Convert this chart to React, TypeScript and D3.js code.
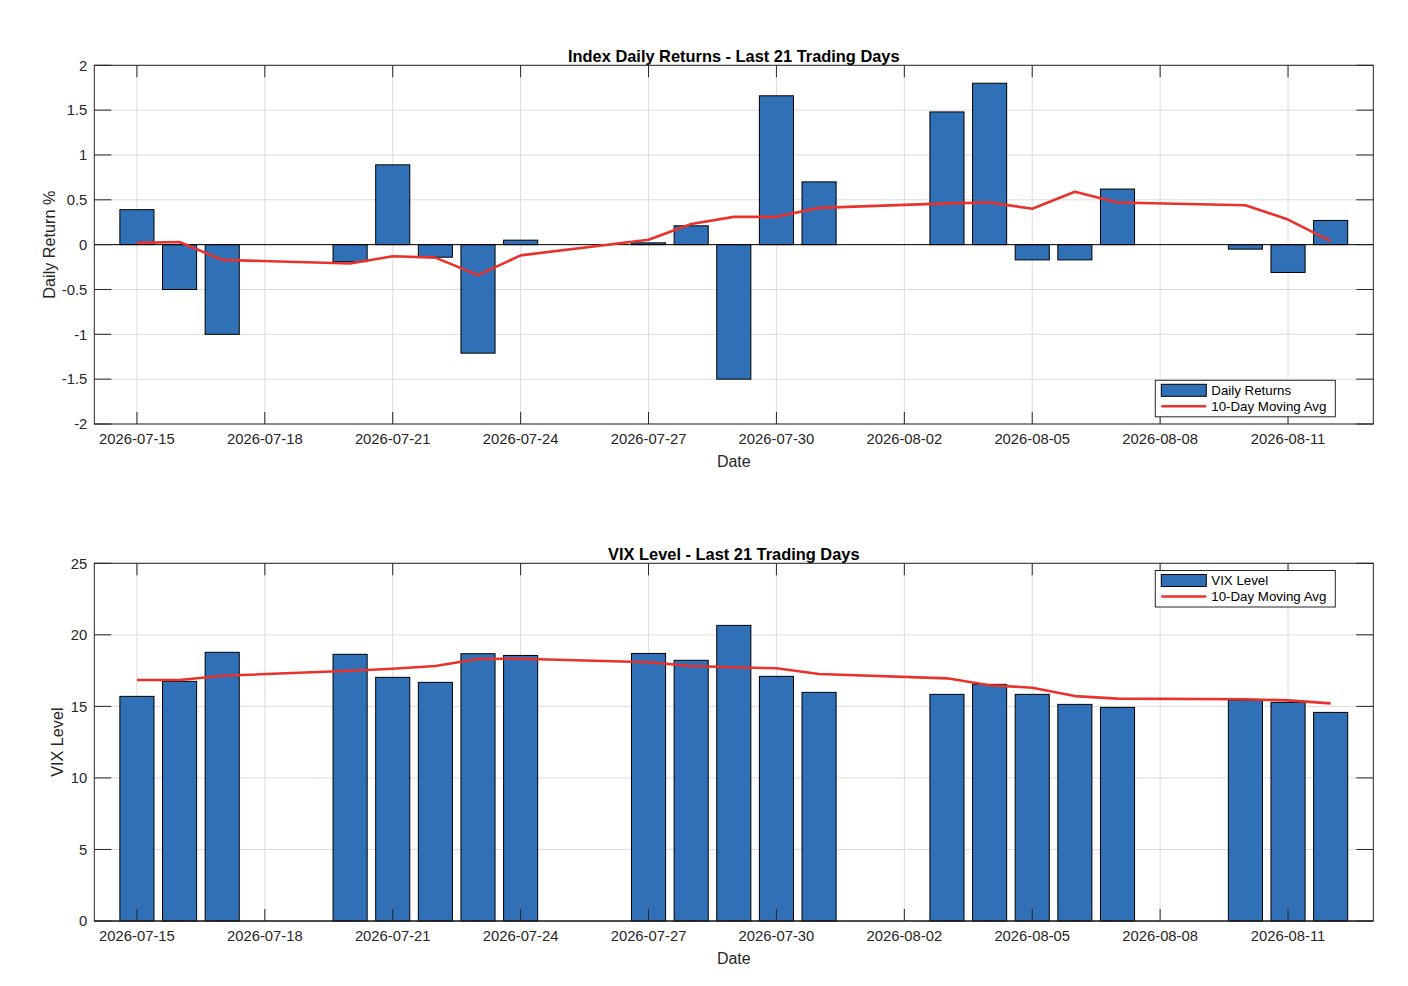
import React from "react";
import * as d3 from "d3";

const tradingDates = [
  "2026-07-15", "2026-07-16", "2026-07-17", "2026-07-20", "2026-07-21", "2026-07-22", "2026-07-23",
  "2026-07-24", "2026-07-27", "2026-07-28", "2026-07-29", "2026-07-30", "2026-07-31", "2026-08-03",
  "2026-08-04", "2026-08-05", "2026-08-06", "2026-08-07", "2026-08-10", "2026-08-11", "2026-08-12",
];
const dailyReturns = [0.39, -0.5, -1.0, -0.19, 0.89, -0.14, -1.21, 0.05, 0.02, 0.21, -1.5, 1.66, 0.7, 1.48, 1.8, -0.17, -0.17, 0.62, -0.05, -0.31, 0.27];
const returnsMA = [0.02, 0.03, -0.17, -0.21, -0.13, -0.145, -0.34, -0.12, 0.055, 0.23, 0.31, 0.31, 0.41, 0.46, 0.47, 0.4, 0.59, 0.47, 0.44, 0.28, 0.04];
const vixLevels = [15.7, 16.75, 18.78, 18.64, 17.03, 16.68, 18.68, 18.56, 18.7, 18.22, 20.66, 17.1, 15.98, 15.84, 16.54, 15.84, 15.14, 14.93, 15.45, 15.28, 14.58];
const vixMA = [16.84, 16.84, 17.14, 17.49, 17.63, 17.82, 18.31, 18.33, 18.08, 17.82, 17.73, 17.66, 17.26, 16.96, 16.48, 16.3, 15.72, 15.54, 15.5, 15.42, 15.21];

const xDomain = ["2026-07-14", "2026-08-13"];
const xTickLabels = ["2026-07-15", "2026-07-18", "2026-07-21", "2026-07-24", "2026-07-27", "2026-07-30", "2026-08-02", "2026-08-05", "2026-08-08", "2026-08-11"];
const returnTicks = [-2, -1.5, -1, -0.5, 0, 0.5, 1, 1.5, 2];
const vixTicks = [0, 5, 10, 15, 20, 25];

const parseDate = d3.timeParse("%Y-%m-%d");
const FONT = "'Liberation Sans', Arial, Helvetica, sans-serif";
const BAR_FILL = "#3070b7";
const LINE_RED = "#e8322b";
const AX = "#262626";

type PanelProps = {
  top: number;
  bottom: number;
  left: number;
  right: number;
  title: string;
  ylabel: string;
  ylabelX: number;
  yDomain: [number, number];
  yTicks: number[];
  values: number[];
  ma: number[];
  barName: string;
  legendTop: number;
};

function Panel(p: PanelProps) {
  const dates = tradingDates.map((d) => parseDate(d) as Date);
  const x = d3.scaleTime().domain(xDomain.map((d) => parseDate(d) as Date)).range([p.left, p.right]);
  const y = d3.scaleLinear().domain(p.yDomain).range([p.bottom, p.top]);
  const dayPx = x(parseDate("2026-07-16") as Date) - x(parseDate("2026-07-15") as Date);
  const barW = dayPx * 0.8;
  const base = y(Math.max(p.yDomain[0], 0));
  const line = d3
    .line<number>()
    .x((_, i) => x(dates[i]))
    .y((v) => y(v));
  const xTicks = xTickLabels.map((s) => ({ s, px: x(parseDate(s) as Date) }));
  const cx = (p.left + p.right) / 2;
  const cy = (p.top + p.bottom) / 2;
  const lg = { x0: p.right - 218, x1: p.right - 38, y0: p.legendTop, y1: p.legendTop + 36.5 };
  const row1 = lg.y0 + 10;
  const row2 = lg.y0 + 26;
  return (
    <g>
      {/* grid */}
      {xTicks.map((t) => (
        <line key={"gx" + t.s} x1={t.px} x2={t.px} y1={p.top} y2={p.bottom} stroke="#dcdcdc" strokeWidth={1} />
      ))}
      {p.yTicks.map((t) => (
        <line key={"gy" + t} x1={p.left} x2={p.right} y1={y(t)} y2={y(t)} stroke="#dcdcdc" strokeWidth={1} />
      ))}
      {/* bars */}
      {p.values.map((v, i) => {
        const yv = y(v);
        return (
          <rect
            key={"b" + i}
            x={x(dates[i]) - barW / 2}
            y={Math.min(yv, base)}
            width={barW}
            height={Math.abs(base - yv)}
            fill={BAR_FILL}
            stroke="#000"
            strokeWidth={1}
          />
        );
      })}
      {/* baseline */}
      <line x1={p.left} x2={p.right} y1={base} y2={base} stroke="#000" strokeWidth={1} />
      {/* MA line */}
      <path d={line(p.ma) || ""} fill="none" stroke={LINE_RED} strokeWidth={2.6} strokeLinejoin="round" />
      {/* ticks */}
      {xTicks.map((t) => (
        <g key={"tx" + t.s}>
          <line x1={t.px} x2={t.px} y1={p.bottom} y2={p.bottom - 12} stroke={AX} strokeWidth={1} />
          <line x1={t.px} x2={t.px} y1={p.top} y2={p.top + 12} stroke={AX} strokeWidth={1} />
          <text x={t.px} y={p.bottom + 19.5} textAnchor="middle" fontSize={14.8} fill={AX} fontFamily={FONT}>
            {t.s}
          </text>
        </g>
      ))}
      {p.yTicks.map((t) => (
        <g key={"ty" + t}>
          <line x1={p.left} x2={p.left + 17} y1={y(t)} y2={y(t)} stroke={AX} strokeWidth={1} />
          <line x1={p.right} x2={p.right - 17} y1={y(t)} y2={y(t)} stroke={AX} strokeWidth={1} />
          <text x={p.left - 7} y={y(t) + 5.3} textAnchor="end" fontSize={14.8} fill={AX} fontFamily={FONT}>
            {String(t)}
          </text>
        </g>
      ))}
      {/* box */}
      <rect x={p.left} y={p.top} width={p.right - p.left} height={p.bottom - p.top} fill="none" stroke={AX} strokeWidth={1} />
      {/* labels */}
      <text x={cx} y={p.top - 3.5} textAnchor="middle" fontSize={16.4} fontWeight="bold" fill="#000" fontFamily={FONT}>
        {p.title}
      </text>
      <text x={cx} y={p.bottom + 42.5} textAnchor="middle" fontSize={16} fill={AX} fontFamily={FONT}>
        Date
      </text>
      <text
        transform={`translate(${p.ylabelX},${cy}) rotate(-90)`}
        textAnchor="middle"
        fontSize={16.2}
        fill={AX}
        fontFamily={FONT}
      >
        {p.ylabel}
      </text>
      {/* legend */}
      <rect x={lg.x0} y={lg.y0} width={lg.x1 - lg.x0} height={lg.y1 - lg.y0} fill="#fff" stroke={AX} strokeWidth={1} />
      <rect x={lg.x0 + 6} y={row1 - 6} width={45} height={12} fill={BAR_FILL} stroke="#000" strokeWidth={1} />
      <line x1={lg.x0 + 6} x2={lg.x0 + 51} y1={row2} y2={row2} stroke={LINE_RED} strokeWidth={2.6} />
      <text x={lg.x0 + 56} y={row1 + 4.8} fontSize={13.3} fill="#000" fontFamily={FONT}>
        {p.barName}
      </text>
      <text x={lg.x0 + 56} y={row2 + 4.8} fontSize={13.3} fill="#000" fontFamily={FONT}>
        10-Day Moving Avg
      </text>
    </g>
  );
}

export default function App() {
  return (
    <svg
      width={1408}
      height={986}
      style={{ position: "absolute", left: 0, top: 0, background: "#fff" }}
    >
      <rect x={0} y={0} width={1408} height={986} fill="#fff" />
      <Panel
        top={65.3}
        bottom={424}
        left={94.3}
        right={1373.3}
        title="Index Daily Returns - Last 21 Trading Days"
        ylabel="Daily Return %"
        ylabelX={54.5}
        yDomain={[-2, 2]}
        yTicks={returnTicks}
        values={dailyReturns}
        ma={returnsMA}
        barName="Daily Returns"
        legendTop={380.3}
      />
      <Panel
        top={563.3}
        bottom={921}
        left={94.3}
        right={1373.3}
        title="VIX Level - Last 21 Trading Days"
        ylabel="VIX Level"
        ylabelX={63}
        yDomain={[0, 25]}
        yTicks={vixTicks}
        values={vixLevels}
        ma={vixMA}
        barName="VIX Level"
        legendTop={570.5}
      />
    </svg>
  );
}
